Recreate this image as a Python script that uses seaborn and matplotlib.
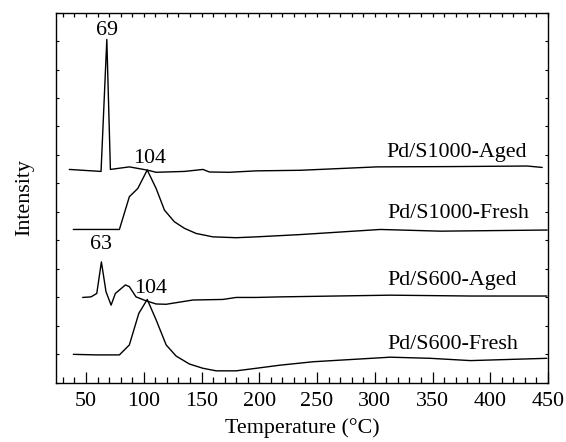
import numpy as np
import pandas as pd
import matplotlib
matplotlib.use("Agg")
import matplotlib.pyplot as plt
from matplotlib.ticker import MultipleLocator, FixedLocator
import seaborn as sns

# ---- data ----
s1000_aged_T = [35.5, 63.0, 68.0, 71.1, 87.5, 102.6, 110.7, 135.2, 151.2, 156.9, 174.0, 197.4,
                235.5, 302.0, 365.5, 432.0, 445.0]
s1000_aged_I = [7.49, 7.42, 12.06, 7.49, 7.58, 7.47, 7.39, 7.42, 7.49, 7.40, 7.39, 7.44,
                7.46, 7.58, 7.59, 7.61, 7.56]

s1000_fresh_T = [39.0, 78.9, 87.5, 94.8, 103.0, 110.7, 117.9, 126.5, 135.2, 145.3, 159.8, 180.0,
                 197.4, 235.5, 304.9, 356.9, 449.3]
s1000_fresh_I = [5.38, 5.38, 6.53, 6.82, 7.47, 6.82, 6.06, 5.65, 5.42, 5.24, 5.12, 5.09,
                 5.12, 5.20, 5.38, 5.32, 5.36]

s600_aged_T = [47.1, 54.3, 59.3, 63.3, 67.3, 71.7, 75.4, 84.1, 87.5, 93.3, 102.0, 110.7, 119.4,
               142.5, 168.5, 180.0, 197.4, 218.2, 313.5, 382.9, 449.0]
s600_aged_I = [2.99, 3.01, 3.13, 4.24, 3.19, 2.72, 3.13, 3.43, 3.37, 3.01, 2.87, 2.76, 2.75,
               2.90, 2.92, 2.99, 2.99, 3.01, 3.07, 3.04, 3.04]

s600_fresh_T = [39.0, 58.7, 78.9, 87.5, 95.7, 103.0, 110.7, 119.4, 128.0, 139.5, 151.2, 162.7,
                180.0, 197.4, 218.2, 246.8, 313.5, 348.2, 382.9, 449.0]
s600_fresh_I = [0.99, 0.97, 0.97, 1.32, 2.43, 2.92, 2.20, 1.32, 0.93, 0.65, 0.50, 0.41,
                0.41, 0.50, 0.61, 0.73, 0.89, 0.85, 0.77, 0.85]

series_names = ["Pd/S1000-Aged", "Pd/S1000-Fresh", "Pd/S600-Aged", "Pd/S600-Fresh"]
series_T = [s1000_aged_T, s1000_fresh_T, s600_aged_T, s600_fresh_T]
series_I = [s1000_aged_I, s1000_fresh_I, s600_aged_I, s600_fresh_I]

# series label anchors (left edge temperature, baseline intensity)
label_T = [310, 311, 311, 311]
label_I = [7.93, 5.77, 3.43, 1.17]

# peak annotations
peak_text = ["69", "104", "63", "104"]
peak_T = [68.0, 105.0, 63.2, 106.3]
peak_I = [12.21, 7.70, 4.71, 3.13]

xticks = [50, 100, 150, 200, 250, 300, 350, 400, 450]
xminor = [30, 40, 60, 70, 80, 90, 110, 120, 130, 140, 160, 170, 180, 190, 210, 220, 230, 240,
          260, 270, 280, 290, 310, 320, 330, 340, 360, 370, 380, 390, 410, 420, 430, 440]

# ---- build long table ----
frames = []
for name, T, I in zip(series_names, series_T, series_I):
    frames.append(pd.DataFrame({"T": T, "I": I, "series": name}))
df = pd.concat(frames, ignore_index=True)

sns.set_theme(style="ticks")
plt.rcParams["font.family"] = ["Liberation Serif", "DejaVu Serif"]
plt.rcParams["axes.axisbelow"] = False

FS = 15.8
XLIM = (24, 450)
YLIM = (0, 13)
pos = [56 / 566, 1 - 382.5 / 442, 492 / 566, 369.8 / 442]
fig = plt.figure(figsize=(5.66, 4.42), dpi=100, facecolor="white")

# axes holding the curves and annotations
ax = fig.add_axes(pos, zorder=1)
sns.lineplot(data=df, x="T", y="I", hue="series", units="series", estimator=None, sort=False,
             palette=["black"] * 4, linewidth=1.0, legend=False, ax=ax)
ax.set_xlim(*XLIM)
ax.set_ylim(*YLIM)
for name, tx, ty in zip(series_names, label_T, label_I):
    ax.text(tx, ty, name, fontsize=FS, ha="left", va="baseline", color="black")
for txt, tx, ty in zip(peak_text, peak_T, peak_I):
    ax.text(tx, ty, txt, fontsize=FS, ha="center", va="baseline", color="black")
ax.set_axis_off()

# frame axes on top: spines, ticks, labels (no twin / secondary axes)
fr = fig.add_axes(pos, zorder=2)
fr.patch.set_visible(False)
fr.set_xlim(*XLIM)
fr.set_ylim(*YLIM)
fr.xaxis.set_major_locator(FixedLocator(xticks))
fr.xaxis.set_minor_locator(FixedLocator(xminor))
fr.yaxis.set_major_locator(MultipleLocator(1))
fr.set_yticklabels([])
fr.tick_params(axis="x", which="major", direction="in", length=8, width=0.9, labelsize=FS,
               pad=7, bottom=True, top=True, labeltop=False, color="black", labelcolor="black")
fr.tick_params(axis="x", which="minor", direction="in", length=4, width=0.9, bottom=True,
               top=True, color="black")
fr.tick_params(axis="y", which="major", direction="in", length=2.5, width=0.8, left=True,
               right=True, color="black")
# top ticks are all short
for t in fr.xaxis.get_major_ticks(len(xticks)):
    t.tick2line.set_markersize(3.0)
for t in fr.xaxis.get_minor_ticks(len(xminor)):
    t.tick2line.set_markersize(3.0)
for sp in fr.spines.values():
    sp.set_linewidth(1.0)
    sp.set_color("black")
fr.set_xlabel("Temperature (°C)", fontsize=FS, labelpad=5, color="black")
fr.set_ylabel("Intensity", fontsize=FS, labelpad=12, color="black")

fig.savefig("out.png", dpi=100, facecolor="white")
